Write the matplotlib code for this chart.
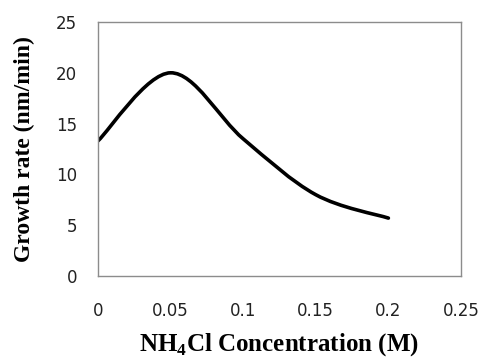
import numpy as np
import matplotlib
matplotlib.use("Agg")
import matplotlib.pyplot as plt
from matplotlib.path import Path
from matplotlib.patches import PathPatch

# NH4Cl concentration (M) vs growth rate (nm/min)
conc = [0.0, 0.05, 0.1, 0.15, 0.2]
rate = [13.3, 20.0, 13.5, 8.0, 5.7]

xticks = [0, 0.05, 0.1, 0.15, 0.2, 0.25]
xticklabels = ["0", "0.05", "0.1", "0.15", "0.2", "0.25"]
yticks = [0, 5, 10, 15, 20, 25]


def smooth_path(x, y):
    # Excel-style smoothed line: cubic Bezier segments through the points
    pts = np.column_stack([x, y])
    n = len(pts)
    verts = [pts[0]]
    codes = [Path.MOVETO]
    for i in range(n - 1):
        p0 = pts[max(i - 1, 0)]
        p1 = pts[i]
        p2 = pts[i + 1]
        p3 = pts[min(i + 2, n - 1)]
        c1 = p1 + (p2 - p0) / 6.0
        c2 = p2 - (p3 - p1) / 6.0
        verts += [c1, c2, p2]
        codes += [Path.CURVE4] * 3
    return Path(verts, codes)


fig = plt.figure(figsize=(4.81, 3.58), dpi=100)
ax = fig.add_axes([98 / 481, 1 - 276 / 358, 363 / 481, 254 / 358])

ax.add_patch(PathPatch(smooth_path(conc, rate), facecolor="none",
                       edgecolor="black", lw=2.6, capstyle="round"))

ax.set_xlim(0, 0.25)
ax.set_ylim(0, 25)
ax.set_xticks(xticks)
ax.set_xticklabels(xticklabels)
ax.set_yticks(yticks)
ax.tick_params(length=0, labelsize=12, colors="#222222")
ax.tick_params(axis="x", pad=18.5)
ax.tick_params(axis="y", pad=15)
for s in ax.spines.values():
    s.set_color("#8c8c8c")
    s.set_linewidth(1.0)

ax.set_xlabel("NH$_{\\mathregular{4}}$Cl Concentration (M)", family="Liberation Serif",
              fontweight="bold", fontsize=18, labelpad=8)
ax.set_ylabel("Growth rate (nm/min)", family="Liberation Serif",
              fontweight="bold", fontsize=17, labelpad=15)

fig.savefig("out.png", dpi=100)
